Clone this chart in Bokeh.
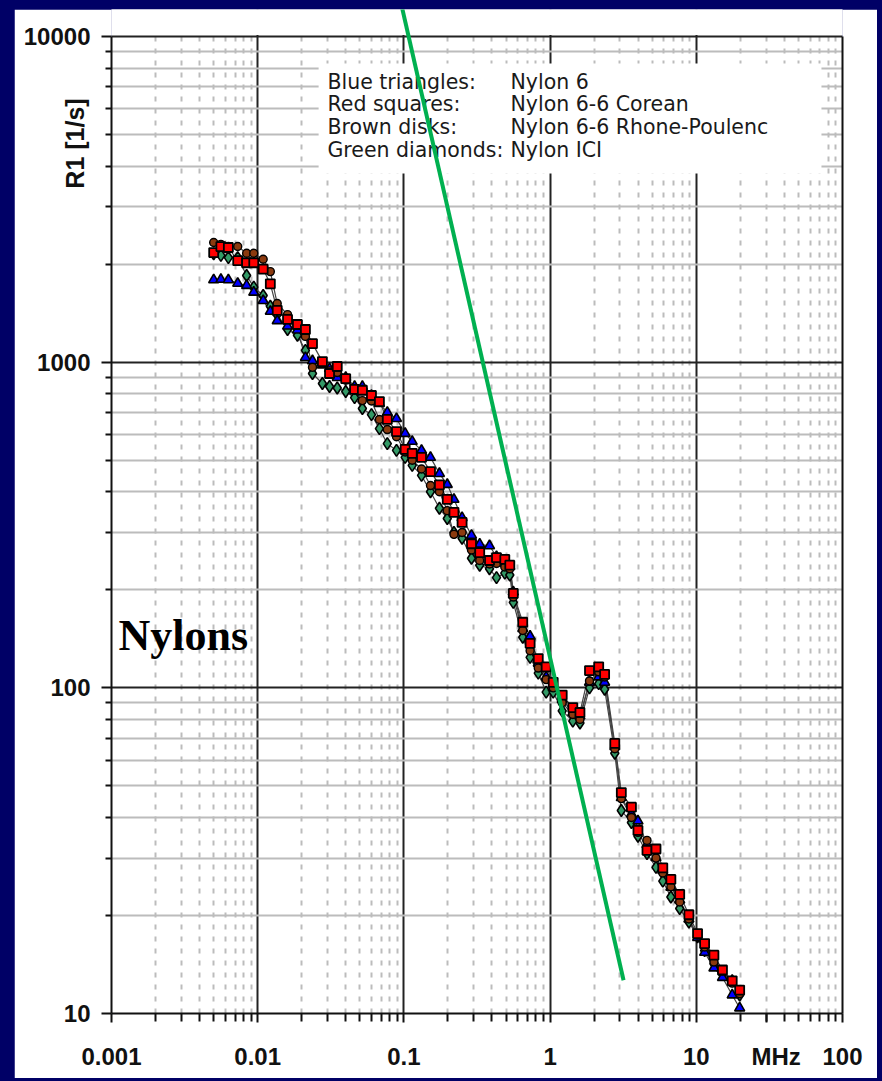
import numpy as np
from bokeh.plotting import figure
from bokeh.models import FixedTicker, Arrow, Label, ColumnDataSource, LogAxis
from bokeh.layouts import column
from bokeh.core.properties import value
from bokeh.embed import file_html
from bokeh.resources import INLINE

# ---------------- data ----------------
freq_mhz = [0.0050, 0.0056, 0.0063, 0.0073, 0.0084, 0.0094, 0.0109, 0.0122, 0.0136, 0.0160,
            0.0187, 0.0212, 0.0237, 0.0277, 0.0310, 0.0350, 0.0400, 0.0460, 0.0520, 0.0600,
            0.0680, 0.0770, 0.0890, 0.1020, 0.1140, 0.1320, 0.1520, 0.1750, 0.1980, 0.2200,
            0.2500, 0.2900, 0.3300, 0.3850, 0.4300, 0.4900, 0.5300, 0.5600, 0.6500, 0.7300,
            0.8300, 0.9400, 1.0500, 1.2100, 1.4300, 1.6000, 1.8600, 2.1500, 2.3600, 2.7700,
            3.0700, 3.6000, 3.9900, 4.6000, 5.3000, 5.9000, 6.7000, 7.7000, 8.9000, 10.200,
            11.400, 13.200, 15.100, 17.600, 19.800]

r1_nylon6 = [1790, 1795, 1790, 1746, 1720, 1640, 1546, 1432, 1340, 1290,
             1255, 1033, 1010, 980, 955, 897, 897, 842, 842, 791,
             746, 701, 671, 604, 571, 536, 510, 455, 421, 379,
             333, 294, 276, 273, 253, 241, 236, 197, 152, 144,
             119, 108, 100, 92, 84, 82, 104, 108, 104, 66,
             46, 41, 39, 33, 30.1, 27.5, 24.4, 22.3, 19.5, 17.1,
             15.4, 13.8, 12.9, 11.4, 10.4]

r1_corean = [2170, 2265, 2250, 2050, 2020, 2020, 1930, 1740, 1443, 1353,
             1305, 1260, 1140, 1004, 923, 970, 890, 825, 820, 790,
             757, 667, 612, 540, 525, 510, 461, 420, 379, 346,
             322, 277, 260, 246, 251, 248, 238, 195, 159, 137,
             123, 116, 104, 95, 87, 84, 113, 116, 110, 67.5,
             47.7, 43, 36.5, 31.7, 32, 28, 25.8, 23.2, 20.1, 17.6,
             16.4, 15.1, 13.6, 12.6, 11.8]

r1_rhone = [2330, 2300, 2265, 2265, 2160, 2160, 2070, 1897, 1514, 1400,
            1305, 1200, 964, 1000, 940, 930, 880, 820, 762, 760,
            667, 621, 590, 530, 500, 470, 418, 400, 350, 296,
            300, 265, 246, 240, 241, 235, 232, 190, 150, 130,
            115, 106, 100, 90, 82.8, 80, 105, 112, 108, 65,
            45.7, 40, 36, 34, 30, 27, 24.5, 22, 19.5, 17.4,
            16, 14.4, 13.5, 12.4, 11.5]

r1_ici = [2150, 2128, 2095, 2095, 1845, 1700, 1603, 1485, 1400, 1260,
          1210, 1087, 923, 860, 842, 833, 813, 778, 721, 690,
          625, 562, 536, 510, 482, 449, 400, 356, 331, 300,
          288, 250, 238, 232, 218, 225, 222, 183, 143, 124,
          111, 97, 97, 85, 79, 78, 100, 103, 99, 63,
          42, 38.6, 35, 31, 28.1, 25.5, 22.8, 21, 19.1, 17.2,
          15.6, 14.2, 13.2, 12.6, 11.4]

x_ticks = [0.001, 0.01, 0.1, 1, 10, 100]
x_tick_labels = ["0.001", "0.01", "0.1", "1", "10", "100"]
y_ticks = [10, 100, 1000, 10000]
y_tick_labels = ["10", "100", "1000", "10000"]
minor_mantissas = [2, 3, 4, 5, 6, 7, 8, 9]
x_unit_tick = 30              # the unit is printed in the tick-label row, near 30 MHz
x_unit_label = "\u00a0\u00a0\u00a0MHz"

x_limits = (0.001, 100)
y_limits = (10, 10000)
y_canvas_top = 12104          # the white margin above the 10000 line

legend_names = ["Blue triangles:", "Red squares:", "Brown disks:", "Green diamonds:"]
legend_samples = ["Nylon 6", "Nylon 6-6 Corean", "Nylon 6-6 Rhone-Poulenc", "Nylon ICI"]
legend_rows_r1 = [7274, 6196, 5282, 4467]
legend_cols_f = [0.0300, 0.536]
legend_box = dict(left=0.0261, right=71.8, bottom=3794, top=8260)

caption_pos = (0.001117, 144.8)
ytitle_pos = (5.67e-4, 4694)

trend_f = [0.0964, 3.18]      # hand-drawn green line
trend_r1 = [12450, 12.65]

# ---------------- styles ----------------
NAVY = "#000066"
INK = "#111111"

p = figure(width=863, height=1069, x_axis_type="log", y_axis_type="log",
           x_range=x_limits, y_range=(y_limits[0], y_canvas_top),
           output_backend="svg", toolbar_location=None,
           min_border_left=97, min_border_right=35, min_border_top=0, min_border_bottom=65,
           border_fill_color="white", background_fill_color="white",
           outline_line_color=None)

x_minor = [m * t for t in x_ticks[:-1] for m in minor_mantissas]
y_minor = [m * t for t in y_ticks[:-1] for m in minor_mantissas]

x_axis_ticks = x_ticks + [x_unit_tick]
x_axis_labels = x_tick_labels + [x_unit_label]

for ax, grid, ticks, labels, grid_ticks, minors, tout, mout, stand in (
        (p.xaxis[0], p.xgrid[0], x_axis_ticks, x_axis_labels, x_ticks, x_minor, 9, 8, 20),
        (p.yaxis[0], p.ygrid[0], y_ticks, y_tick_labels, y_ticks, y_minor, 10, 6, 11)):
    ax.ticker = FixedTicker(ticks=ticks, minor_ticks=minors)
    grid.ticker = FixedTicker(ticks=grid_ticks, minor_ticks=minors)
    ax.major_label_overrides = dict(zip(ticks, labels))
    ax.axis_line_color = INK
    ax.axis_line_width = 2
    ax.major_tick_line_color = INK
    ax.major_tick_line_width = 2
    ax.major_tick_in = 0
    ax.major_tick_out = tout
    ax.minor_tick_line_color = INK
    ax.minor_tick_line_width = 2
    ax.minor_tick_in = 0
    ax.minor_tick_out = mout
    ax.major_label_text_font = "Liberation Sans"
    ax.major_label_text_font_style = "bold"
    ax.major_label_text_font_size = "24px"
    ax.major_label_text_color = INK
    ax.major_label_standoff = stand
    grid.grid_line_color = "#222222"
    grid.grid_line_width = 2
    grid.minor_grid_line_color = "#bcbcbc"
    grid.minor_grid_line_width = 2

p.xgrid[0].minor_grid_line_dash = "5 7"
p.yaxis[0].bounds = y_limits

# right edge of the plot box
right_ax = LogAxis(ticker=FixedTicker(ticks=[]), bounds=y_limits,
                   axis_line_color=INK, axis_line_width=2,
                   major_tick_out=0, minor_tick_out=0, major_tick_in=0, minor_tick_in=0)
p.add_layout(right_ax, "right")

# white margin above the 10000 line (hides grid lines there)
p.quad(left=[x_limits[0] / 2], right=[x_limits[1] * 2],
       bottom=[y_limits[1] * 1.01], top=[y_canvas_top * 2],
       fill_color="white", line_color=None)

# legend background (hides the grid behind the text)
p.quad(left=[legend_box["left"]], right=[legend_box["right"]],
       bottom=[legend_box["bottom"]], top=[legend_box["top"]],
       fill_color="white", line_color=None)

src = ColumnDataSource(dict(f=freq_mhz, n6=r1_nylon6, cor=r1_corean, rp=r1_rhone, ici=r1_ici))
for key in ("ici", "n6", "rp", "cor"):
    p.line("f", key, source=src, line_color="#444444", line_width=1.2)

p.scatter("f", "ici", source=src, marker="diamond", size=12, fill_color="#339966",
          line_color="black", line_width=1.6)
p.scatter("f", "n6", source=src, marker="triangle", size=10, fill_color="#0000ff",
          line_color="black", line_width=1.6)
p.scatter("f", "rp", source=src, marker="circle", size=8, fill_color="#8b3a0f",
          line_color="black", line_width=1.4)
p.scatter("f", "cor", source=src, marker="square", size=9, fill_color="#ff0000",
          line_color="black", line_width=1.8)

# legend text
p.text(x=[legend_cols_f[0]] * 4 + [legend_cols_f[1]] * 4,
       y=legend_rows_r1 + legend_rows_r1,
       text=legend_names + legend_samples,
       text_font=value("DejaVu Sans"), text_font_size="20.5px",
       text_baseline="middle", text_align="left", text_color="#1a1a1a")

# "Nylons" caption
p.text(x=[caption_pos[0]], y=[caption_pos[1]], text=["Nylons"],
       text_font=value("Liberation Serif"), text_font_style="bold",
       text_font_size="44px", text_baseline="middle", text_align="left",
       text_color="black")

# y title, drawn from a side panel so that it is not clipped to the frame
p.add_layout(Label(x=ytitle_pos[0], y=ytitle_pos[1], text="R1 [1/s]", angle=np.pi / 2,
                   text_align="center", text_baseline="middle",
                   text_font="Liberation Sans", text_font_style="bold",
                   text_font_size="25px", text_color=INK), "right")

# hand-drawn green line
p.add_layout(Arrow(end=None, x_start=trend_f[0], y_start=trend_r1[0],
                   x_end=trend_f[1], y_end=trend_r1[1],
                   line_color="#00b050", line_width=4))

page = column(p, styles={"background-color": NAVY, "padding-left": "14px", "padding-top": "9px",
                         "padding-right": "5px", "padding-bottom": "3px"})

open("out.html", "w").write(file_html(page, INLINE))
